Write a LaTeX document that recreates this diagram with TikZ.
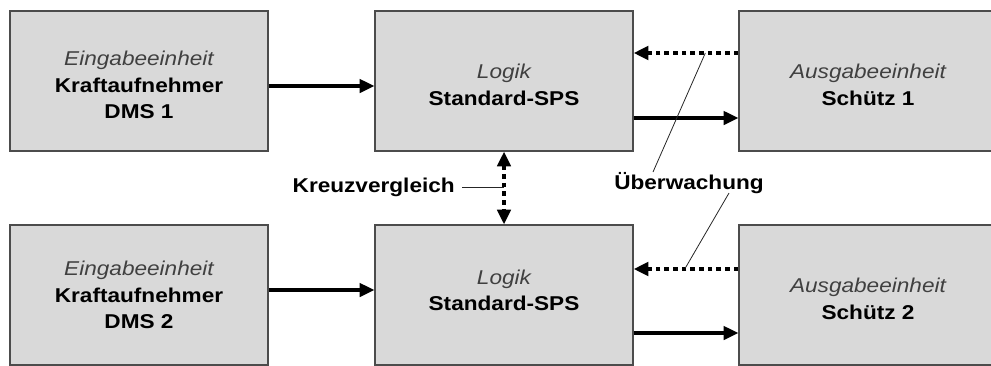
\documentclass[tikz,border=0pt]{standalone}
\usepackage{fontspec}
\setmainfont{Liberation Sans}[FakeStretch=1.13]
\usetikzlibrary{arrows.meta,calc}
\definecolor{boxgray}{rgb}{0.85,0.85,0.85}
\definecolor{framegray}{rgb}{0.3,0.3,0.3}
\definecolor{unitgray}{rgb}{0.25,0.25,0.25}
\newcommand{\unitname}[1]{{\mdseries\itshape\color{unitgray}#1}}
\newcommand{\padtop}[1]{\rule{0pt}{#1}}
\newcommand{\padbottom}[1]{\rule[-#1]{0pt}{#1}}

\tikzset{
  unitbox/.style={draw=framegray, fill=boxgray, line width=1pt,
    minimum width=193.5pt, minimum height=105pt, inner sep=0pt,
    align=center, font=\fontsize{15}{20}\selectfont\bfseries},
  flow/.style={line width=2.4pt, -{Triangle[length=11pt,width=10pt]}},
  signal/.style={line width=3pt, dash pattern=on 3.5pt off 3pt,
    -{Triangle[length=11pt,width=10pt]}},
  hint/.style={line width=0.6pt, black!85},
  note/.style={font=\fontsize{15}{20}\selectfont\bfseries, inner sep=0pt},
}

\begin{document}
\begin{tikzpicture}[x=0.75pt, y=-0.75pt]

  \useasboundingbox (0,0) rectangle (991,365);
  \clip (0,0) rectangle (991,365);

  % Kanal 1
  \node[unitbox] (in1) at (139,81)
    {\padtop{17pt}\unitname{Eingabeeinheit}\\Kraftaufnehmer\\DMS 1};
  \node[unitbox] (sps1) at (504,81)
    {\padtop{17pt}\unitname{Logik}\\Standard-SPS};
  \node[unitbox] (act1) at (868,81)
    {\padtop{17pt}\unitname{Ausgabeeinheit}\\Schütz 1};

  % Kanal 2
  \node[unitbox] (in2) at (139,295)
    {\unitname{Eingabeeinheit}\\Kraftaufnehmer\\DMS 2};
  \node[unitbox] (sps2) at (504,295)
    {\unitname{Logik}\\Standard-SPS\padbottom{7pt}};
  \node[unitbox] (act2) at (868,295)
    {\padtop{17pt}\unitname{Ausgabeeinheit}\\Schütz 2};

  \draw[flow] ($(in1.east)+(0,5)$) -- ($(sps1.west)+(0,5)$);
  \draw[flow] ($(sps1.east)+(0,37)$) -- ($(act1.west)+(0,37)$);
  \draw[signal] ($(act1.west)+(0,-28)$) -- ($(sps1.east)+(0,-28)$);

  \draw[flow] ($(in2.east)+(0,-5)$) -- ($(sps2.west)+(0,-5)$);
  \draw[flow] ($(sps2.east)+(0,38)$) -- ($(act2.west)+(0,38)$);
  \draw[signal] ($(act2.west)+(0,-26)$) -- ($(sps2.east)+(0,-26)$);

  % Kreuzvergleich
  \draw[signal, line width=2.6pt, {Triangle[length=11pt,width=10pt]}-{Triangle[length=11pt,width=10pt]}]
    (sps1.south) -- (sps2.north);
  \node[note, anchor=east] (kreuz) at (455,187) {Kreuzvergleich};
  \draw[hint] ($(kreuz.east)+(7,0)$) -- (kreuz.east -| sps1.south);

  % Ueberwachung
  \node[note] (ueber) at (689,183) {Überwachung};
  \coordinate (mon1) at ($(act1.west)+(-33,-28)$);
  \coordinate (mon2) at ($(act2.west)+(-53,-27)$);
  \draw[hint] ($(ueber.center)+(-36,-11)$) -- (mon1);
  \draw[hint] ($(ueber.center)+(40,10)$) -- (mon2);

\end{tikzpicture}
\end{document}
